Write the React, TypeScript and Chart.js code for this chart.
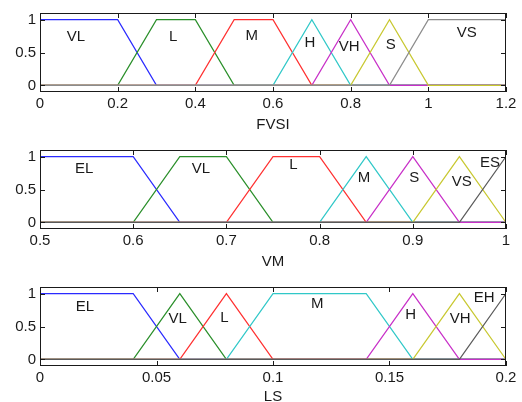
import React, { useEffect, useRef } from 'react';
import { Chart, registerables } from 'chart.js';

Chart.register(...registerables);

// ---------- Panel 1: FVSI ----------
const fvsiTicks = [0, 0.2, 0.4, 0.6, 0.8, 1, 1.2];
const fvsiTickLabels = ['0', '0.2', '0.4', '0.6', '0.8', '1', '1.2'];
const fvsiNames = ['VL', 'L', 'M', 'H', 'VH', 'S', 'VS'];
const fvsiParams = [
  [0, 0, 0.2, 0.3],
  [0.2, 0.3, 0.4, 0.5],
  [0.4, 0.5, 0.6, 0.7],
  [0.6, 0.7, 0.7, 0.8],
  [0.7, 0.8, 0.8, 0.9],
  [0.8, 0.9, 0.9, 1.0],
  [0.9, 1.0, 1.2, 1.2],
];
const fvsiLabelX = [0.0927, 0.343, 0.545, 0.695, 0.796, 0.903, 1.099];
const fvsiLabelY = [0.73, 0.73, 0.756, 0.65, 0.585, 0.62, 0.8];

// ---------- Panel 2: VM ----------
const vmTicks = [0.5, 0.6, 0.7, 0.8, 0.9, 1];
const vmTickLabels = ['0.5', '0.6', '0.7', '0.8', '0.9', '1'];
const vmNames = ['EL', 'VL', 'L', 'M', 'S', 'VS', 'ES'];
const vmParams = [
  [0.5, 0.5, 0.6, 0.65],
  [0.6, 0.65, 0.7, 0.75],
  [0.7, 0.75, 0.8, 0.85],
  [0.8, 0.85, 0.85, 0.9],
  [0.85, 0.9, 0.9, 0.95],
  [0.9, 0.95, 0.95, 1.0],
  [0.95, 1.0, 1.0, 1.0],
];
const vmLabelX = [0.5475, 0.6727, 0.7718, 0.8476, 0.9016, 0.9525, 0.9828];
const vmLabelY = [0.817, 0.817, 0.876, 0.67, 0.68, 0.62, 0.905];

// ---------- Panel 3: LS ----------
const lsTicks = [0, 0.05, 0.1, 0.15, 0.2];
const lsTickLabels = ['0', '0.05', '0.1', '0.15', '0.2'];
const lsNames = ['EL', 'VL', 'L', 'M', 'H', 'VH', 'EH'];
const lsParams = [
  [0, 0, 0.04, 0.06],
  [0.04, 0.06, 0.06, 0.08],
  [0.06, 0.08, 0.08, 0.1],
  [0.08, 0.1, 0.14, 0.16],
  [0.14, 0.16, 0.16, 0.18],
  [0.16, 0.18, 0.18, 0.2],
  [0.18, 0.2, 0.2, 0.2],
];
const lsLabelX = [0.0193, 0.0591, 0.0791, 0.119, 0.1591, 0.1803, 0.1906];
const lsLabelY = [0.8, 0.615, 0.635, 0.85, 0.67, 0.615, 0.94];

const yTicks = [0, 0.5, 1];
const yTickLabels = ['0', '0.5', '1'];

const baseColors = ['#2a2aff', '#2a8f2a', '#ff3030', '#30c8c8', '#c830c8', '#c8c830'];
const FAMILY = '"Liberation Sans", Arial, Helvetica, sans-serif';

function mu(x: number, p: number[]) {
  const [a, b, c, d] = p;
  if (x < a || x > d) return 0;
  if (x >= b && x <= c) return 1;
  if (x > a && x < b) return (x - a) / (b - a);
  if (x > c && x < d) return (d - x) / (d - c);
  return 0;
}

function mfPoints(p: number[], lo: number, hi: number) {
  const xs = Array.from(new Set([lo, ...p, hi])).sort((u, v) => u - v);
  return xs.map((x) => ({ x, y: mu(x, p) }));
}

const framePlugin = {
  id: 'mfFrame',
  beforeDatasetsDraw(chart: any, _a: any, opts: any) {
    const { ctx, scales } = chart;
    const { x, y } = scales;
    ctx.save();
    ctx.font = `15px ${FAMILY}`;
    ctx.fillStyle = '#1a1a1a';
    ctx.textAlign = 'center';
    ctx.textBaseline = 'middle';
    (opts.names || []).forEach((n: string, i: number) => {
      ctx.fillText(n, x.getPixelForValue(opts.lx[i]), y.getPixelForValue(opts.ly[i]));
    });
    ctx.restore();
  },
  afterDatasetsDraw(chart: any) {
    const { ctx, chartArea, scales } = chart;
    const { left, top, right, bottom } = chartArea;
    const { x, y } = scales;
    ctx.save();
    ctx.strokeStyle = '#1a1a1a';
    ctx.lineWidth = 1;
    ctx.strokeRect(left + 0.5, top + 0.5, right - left - 1, bottom - top - 1);
    const tl = 5;
    ctx.beginPath();
    x.ticks.forEach((t: any) => {
      const px = Math.round(x.getPixelForValue(t.value)) + 0.5;
      ctx.moveTo(px, bottom);
      ctx.lineTo(px, bottom - tl);
      ctx.moveTo(px, top);
      ctx.lineTo(px, top + tl);
    });
    y.ticks.forEach((t: any) => {
      const py = Math.round(y.getPixelForValue(t.value)) + 0.5;
      ctx.moveTo(left, py);
      ctx.lineTo(left + tl, py);
      ctx.moveTo(right, py);
      ctx.lineTo(right - tl, py);
    });
    ctx.stroke();
    ctx.restore();
  },
};

type PanelProps = {
  top: number;
  height: number;
  names: string[];
  params: number[][];
  ticks: number[];
  tickLabels: string[];
  lx: number[];
  ly: number[];
  title: string;
  kColor: string;
};

function Panel(props: PanelProps) {
  const ref = useRef<HTMLCanvasElement | null>(null);
  useEffect(() => {
    if (!ref.current) return;
    const { names, params, ticks, tickLabels, lx, ly, title, kColor, height } = props;
    const lo = ticks[0];
    const hi = ticks[ticks.length - 1];
    const colors = [...baseColors, kColor];
    const datasets = names.map((n, i) => ({
      label: n,
      data: mfPoints(params[i], lo, hi),
      borderColor: colors[i],
      backgroundColor: colors[i],
      borderWidth: 1.2,
      pointRadius: 0,
      showLine: true,
      fill: false,
      tension: 0,
      order: names.length - i,
    }));
    const chart = new Chart(ref.current, {
      type: 'scatter',
      data: { datasets },
      options: {
        animation: false,
        responsive: false,
        maintainAspectRatio: false,
        layout: { padding: { top: 10, left: 0, right: 16, bottom: 0 } },
        plugins: {
          legend: { display: false },
          tooltip: { enabled: false },
          mfFrame: { names, lx, ly },
        } as any,
        scales: {
          x: {
            type: 'linear',
            min: lo,
            max: hi,
            grid: { display: false, drawTicks: false },
            border: { display: false },
            afterBuildTicks: (s: any) => {
              s.ticks = ticks.map((v) => ({ value: v }));
            },
            afterFit: (s: any) => {
              s.height = height - 92;
            },
            ticks: {
              autoSkip: false,
              maxRotation: 0,
              padding: 3,
              color: '#1a1a1a',
              font: { family: FAMILY, size: 15, lineHeight: 1.2 },
              callback: (v: any) => {
                const i = ticks.findIndex((t) => Math.abs(t - Number(v)) < 1e-9);
                return i >= 0 ? tickLabels[i] : '';
              },
            },
            title: {
              display: true,
              text: title,
              color: '#1a1a1a',
              font: { family: FAMILY, size: 15, lineHeight: 1 },
              padding: { top: 0, bottom: 0 },
            },
          },
          y: {
            type: 'linear',
            min: -0.1,
            max: 1.1,
            grid: { display: false, drawTicks: false },
            border: { display: false },
            afterBuildTicks: (s: any) => {
              s.ticks = yTicks.map((v) => ({ value: v }));
            },
            afterFit: (s: any) => {
              s.width = 40;
            },
            ticks: {
              padding: 4,
              color: '#1a1a1a',
              font: { family: FAMILY, size: 15, lineHeight: 1.2 },
              callback: (v: any) => {
                const i = yTicks.findIndex((t) => Math.abs(t - Number(v)) < 1e-9);
                return i >= 0 ? yTickLabels[i] : '';
              },
            },
          },
        },
      },
      plugins: [framePlugin],
    } as any);
    return () => chart.destroy();
  }, []);
  return (
    <canvas
      ref={ref}
      width={522}
      height={props.height}
      style={{ position: 'absolute', left: 0, top: props.top, width: 522, height: props.height }}
    />
  );
}

export default function App() {
  return (
    <div
      style={{
        position: 'absolute',
        left: 0,
        top: 0,
        width: 522,
        height: 402,
        overflow: 'hidden',
        background: '#ffffff',
      }}
    >
      <Panel
        top={0}
        height={132}
        names={fvsiNames}
        params={fvsiParams}
        ticks={fvsiTicks}
        tickLabels={fvsiTickLabels}
        lx={fvsiLabelX}
        ly={fvsiLabelY}
        title="FVSI"
        kColor="#8c8c8c"
      />
      <Panel
        top={137}
        height={132}
        names={vmNames}
        params={vmParams}
        ticks={vmTicks}
        tickLabels={vmTickLabels}
        lx={vmLabelX}
        ly={vmLabelY}
        title="VM"
        kColor="#5a5a5a"
      />
      <Panel
        top={274}
        height={130}
        names={lsNames}
        params={lsParams}
        ticks={lsTicks}
        tickLabels={lsTickLabels}
        lx={lsLabelX}
        ly={lsLabelY}
        title="LS"
        kColor="#5a5a5a"
      />
    </div>
  );
}
